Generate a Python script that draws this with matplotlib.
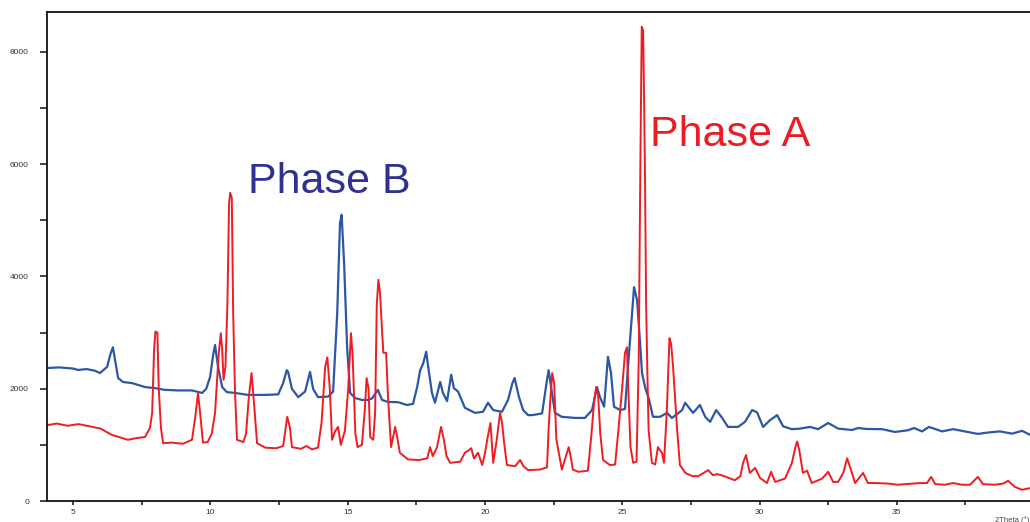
import numpy as np
import matplotlib
matplotlib.use("Agg")
import matplotlib.pyplot as plt
from matplotlib.ticker import MultipleLocator

# Phase A (red) pattern: 2theta (deg), counts
phase_a_x = [4.05, 4.4, 4.8, 5.2, 5.6, 6.0, 6.4, 6.8, 7.0, 7.3, 7.62, 7.8, 7.88, 7.95, 8.0, 8.07, 8.12, 8.2, 8.28,
             8.6, 9.0, 9.33, 9.45, 9.55, 9.62, 9.73, 9.9, 10.05, 10.17, 10.3, 10.38, 10.43, 10.48, 10.55, 10.62,
             10.68, 10.72, 10.78, 10.83, 10.9, 10.97, 11.2, 11.3, 11.4, 11.5, 11.58, 11.7, 12.0, 12.4, 12.65,
             12.8, 12.9, 12.97, 13.3, 13.5, 13.7, 13.92, 14.05, 14.18, 14.26, 14.35, 14.43, 14.55, 14.65, 14.75,
             14.9, 15.02, 15.12, 15.18, 15.28, 15.36, 15.52, 15.62, 15.69, 15.76, 15.82, 15.93, 16.0, 16.06,
             16.12, 16.18, 16.25, 16.3, 16.4, 16.47, 16.58, 16.68, 16.73, 16.8, 16.9, 17.2, 17.6, 17.9, 18.0,
             18.1, 18.25, 18.4, 18.5, 18.6, 18.73, 19.1, 19.27, 19.4, 19.5, 19.6, 19.75, 19.9, 20.0, 20.1, 20.2,
             20.3, 20.43, 20.55, 20.62, 20.7, 20.8, 21.1, 21.28, 21.4, 21.57, 22.0, 22.26, 22.32, 22.38, 22.45,
             22.52, 22.6, 22.8, 22.95, 23.05, 23.12, 23.2, 23.4, 23.75, 23.88, 23.98, 24.05, 24.12, 24.2, 24.3,
             24.55, 24.74, 24.85, 25.0, 25.1, 25.17, 25.22, 25.3, 25.4, 25.52, 25.6, 25.66, 25.71, 25.76, 25.8,
             25.83, 25.87, 25.92, 25.96, 26.08, 26.2, 26.3, 26.38, 26.45, 26.52, 26.62, 26.72, 26.78, 26.85,
             27.0, 27.1, 27.3, 27.54, 27.76, 28.13, 28.3, 28.45, 28.67, 29.1, 29.3, 29.4, 29.51, 29.6, 29.65,
             29.84, 30.02, 30.27, 30.42, 30.57, 30.93, 31.18, 31.3, 31.37, 31.45, 31.58, 31.73, 31.9, 32.28,
             32.5, 32.68, 32.86, 33.05, 33.19, 33.3, 33.48, 33.77, 33.95, 34.2, 34.68, 35.04, 35.55, 35.84,
             36.1, 36.25, 36.4, 36.75, 37.05, 37.37, 37.67, 37.95, 38.14, 38.57, 38.87, 39.05, 39.3, 39.56, 39.85]
phase_a_y = [1350, 1380, 1340, 1370, 1330, 1290, 1180, 1120, 1090, 1120, 1140, 1300, 1570, 2700, 3020, 3000, 2000,
             1300, 1030, 1040, 1020, 1090, 1500, 1920, 1600, 1040, 1050, 1200, 1570, 2600, 2990, 2700, 2160, 2400,
             3500, 5300, 5490, 5400, 3350, 1900, 1090, 1050, 1200, 1850, 2280, 1800, 1030, 950, 940, 980, 1500,
             1300, 960, 930, 980, 920, 950, 1400, 2390, 2560, 2000, 1090, 1250, 1320, 1000, 1250, 2000, 2990,
             2600, 1200, 960, 1000, 1600, 2190, 2000, 1140, 1090, 1570, 3500, 3940, 3700, 3050, 2640, 2640, 1850,
             960, 1200, 1320, 1150, 860, 740, 730, 760, 960, 800, 950, 1320, 1100, 800, 680, 700, 860, 900, 940,
             760, 860, 640, 850, 1140, 1390, 680, 1090, 1570, 1400, 1030, 640, 620, 730, 620, 550, 560, 600,
             1300, 1800, 2280, 2100, 1100, 560, 800, 960, 800, 560, 520, 540, 1200, 1800, 2030, 1900, 1200, 730,
             640, 650, 1210, 2030, 2640, 2740, 2000, 960, 680, 700, 2500, 6000, 8450, 8380, 7000, 5700, 3500,
             2160, 1265, 680, 650, 960, 900, 855, 680, 1570, 2900, 2800, 2400, 1265, 640, 500, 445, 440, 550,
             460, 480, 450, 370, 440, 680, 820, 600, 500, 590, 410, 320, 520, 340, 400, 680, 950, 1060, 900, 500,
             540, 320, 400, 520, 340, 340, 500, 760, 600, 320, 500, 320, 320, 310, 290, 310, 320, 320, 430, 300,
             290, 320, 290, 290, 430, 300, 290, 310, 360, 250, 200, 230]

# Phase B (blue) pattern
phase_b_x = [4.05, 4.5, 5.0, 5.18, 5.5, 5.8, 5.98, 6.24, 6.35, 6.45, 6.53, 6.64, 6.82, 7.15, 7.62, 7.99, 8.35,
             8.82, 9.33, 9.7, 9.85, 9.99, 10.1, 10.17, 10.28, 10.43, 10.6, 10.9, 11.37, 12.0, 12.47, 12.65, 12.78,
             12.83, 12.97, 13.2, 13.45, 13.58, 13.63, 13.74, 13.92, 14.29, 14.47, 14.62, 14.72, 14.78, 14.87,
             14.98, 15.09, 15.27, 15.52, 15.74, 15.89, 16.1, 16.25, 16.47, 16.84, 17.16, 17.38, 17.53, 17.64,
             17.75, 17.86, 17.93, 18.07, 18.18, 18.37, 18.47, 18.62, 18.77, 18.87, 19.02, 19.27, 19.64, 19.93,
             20.11, 20.3, 20.62, 20.84, 21.0, 21.08, 21.24, 21.39, 21.57, 21.72, 22.08, 22.26, 22.32, 22.44,
             22.55, 22.8, 23.28, 23.64, 23.9, 24.08, 24.19, 24.34, 24.42, 24.48, 24.59, 24.7, 24.92, 25.1, 25.21,
             25.36, 25.43, 25.54, 25.65, 25.72, 25.83, 25.98, 26.12, 26.38, 26.63, 26.81, 27.03, 27.18, 27.29,
             27.45, 27.58, 27.83, 28.02, 28.2, 28.42, 28.64, 28.85, 29.22, 29.47, 29.73, 29.91, 30.13, 30.38,
             30.64, 30.86, 31.18, 31.48, 31.84, 32.13, 32.5, 32.86, 33.37, 33.59, 33.9, 34.46, 34.93, 35.4,
             35.63, 35.92, 36.17, 36.65, 37.05, 37.48, 37.95, 38.32, 38.76, 39.2, 39.56, 39.85]
phase_b_y = [2370, 2380, 2360, 2335, 2350, 2320, 2280, 2390, 2600, 2740, 2510, 2190, 2120, 2100, 2030, 2010, 1980,
             1970, 1970, 1925, 2000, 2210, 2600, 2780, 2390, 2030, 1940, 1925, 1890, 1890, 1900, 2100, 2330, 2300,
             2000, 1850, 1950, 2200, 2300, 2000, 1850, 1860, 1950, 3350, 4950, 5100, 4240, 2740, 1925, 1835, 1800,
             1800, 1830, 1980, 1800, 1765, 1760, 1710, 1730, 2030, 2330, 2450, 2660, 2400, 1925, 1750, 2120, 1925,
             1780, 2250, 2010, 1950, 1660, 1570, 1590, 1750, 1620, 1590, 1800, 2100, 2190, 1850, 1620, 1530, 1530,
             1560, 2160, 2330, 1925, 1570, 1500, 1480, 1480, 1620, 2030, 1850, 1680, 2200, 2570, 2280, 1680, 1620,
             1640, 2390, 3350, 3810, 3580, 2815, 2280, 2030, 1800, 1500, 1500, 1570, 1480, 1560, 1620, 1750, 1650,
             1570, 1710, 1500, 1410, 1620, 1480, 1320, 1320, 1410, 1620, 1580, 1320, 1440, 1530, 1330, 1280, 1290,
             1320, 1280, 1390, 1290, 1265, 1300, 1283, 1280, 1230, 1260, 1300, 1240, 1320, 1240, 1280, 1240, 1195,
             1220, 1240, 1200, 1250, 1180]

y_ticks = [0, 2000, 4000, 6000, 8000]
x_ticks = [5, 10, 15, 20, 25, 30, 35]

plt.rcParams['font.family'] = ['Liberation Sans', 'DejaVu Sans']

fig = plt.figure(figsize=(10.30, 5.22), dpi=100)
ax = fig.add_axes([47/1030, 21/522, 1 - 47/1030, 489/522])

ax.plot(phase_b_x, phase_b_y, color='#2C57A6', lw=1.6)
ax.plot(phase_a_x, phase_a_y, color='#EE1D23', lw=1.4)

ax.text(11.37, 5488, 'Phase B', color='#2E3192', fontsize=31, ha='left', va='baseline')
ax.text(26.01, 6325, 'Phase A', color='#ED1C24', fontsize=31, ha='left', va='baseline')

ax.set_xlim(4.05, 39.85)
ax.set_ylim(0, 8712)
ax.set_xticks(x_ticks)
ax.set_yticks(y_ticks)
ax.xaxis.set_minor_locator(MultipleLocator(2.5))
ax.yaxis.set_minor_locator(MultipleLocator(1000))
ax.tick_params(which='both', direction='out', width=1.2, colors='#222222',
               labelsize=6, labelcolor='#333333')
ax.tick_params(axis='y', which='both', length=5, pad=8)
ax.tick_params(axis='x', which='both', length=3, pad=3)
ax.spines['right'].set_visible(False)
for s in ['top', 'left', 'bottom']:
    ax.spines[s].set_linewidth(1.3)
    ax.spines[s].set_color('#111111')

fig.text(995/1030, 6/522, '2Theta (°)', fontsize=5.5, color='#444444', ha='left', va='top')

fig.savefig('out.png', dpi=100)
